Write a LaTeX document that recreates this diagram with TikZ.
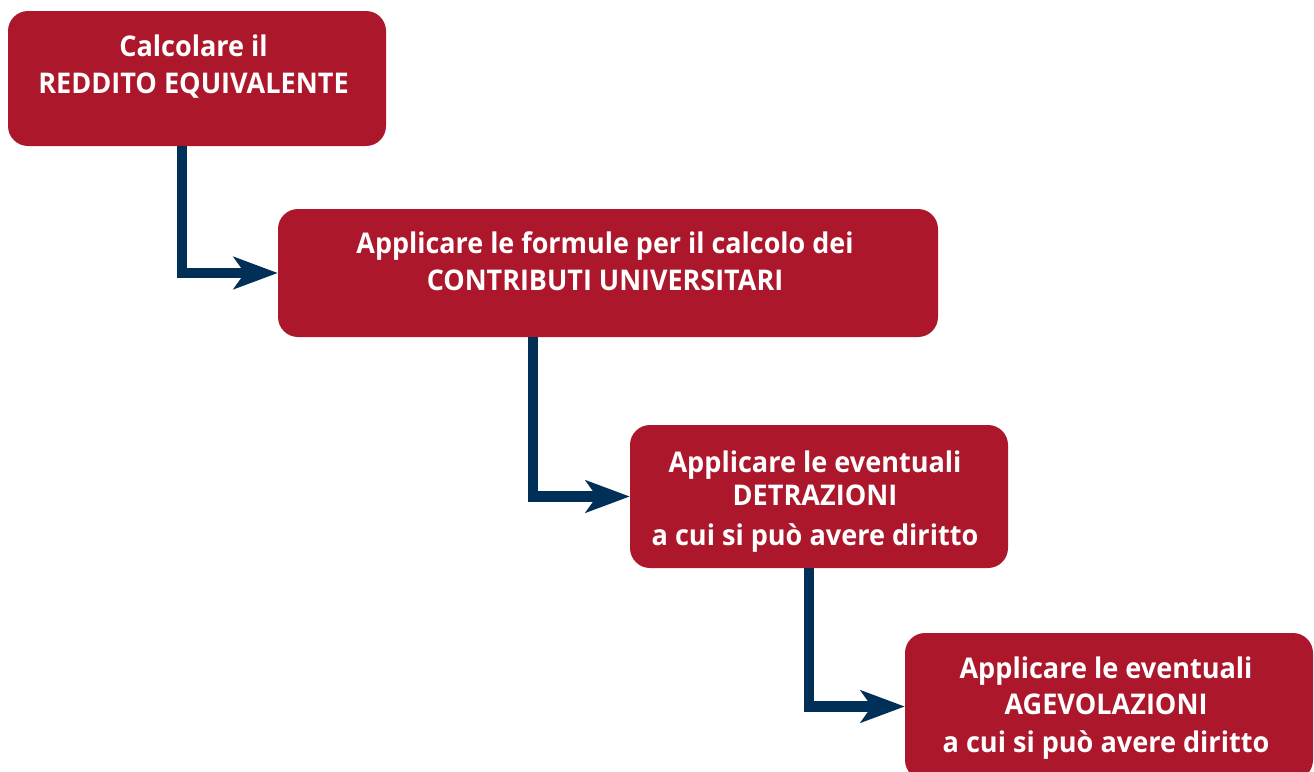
\documentclass[tikz,border=0pt]{standalone}
\usepackage{fontspec}
\setmainfont{Open Sans}[BoldFont={* Bold},FakeStretch=0.95]
\newfontfamily\condfont{Open Sans}[BoldFont={* Bold},FakeStretch=0.945]
\usetikzlibrary{arrows.meta}
\definecolor{boxred}{HTML}{AD172B}
\definecolor{navy}{HTML}{003057}
\tikzset{
  box/.style={rectangle, fill=boxred, draw=none, rounded corners=20pt, inner sep=0pt},
  txt/.style={anchor=base, text=white, inner sep=0pt, font=\fontsize{28.5}{34}\selectfont\bfseries},
  ctxt/.style={anchor=base, text=white, inner sep=0pt, font=\fontsize{28.5}{34}\selectfont\condfont\bfseries},
  conn/.style={draw=navy, line width=10.5pt, -{Stealth[length=44pt, width=32pt, inset=11pt]}}
}
\begin{document}
\begin{tikzpicture}[x=1pt, y=-1pt]
\useasboundingbox (0,0) rectangle (1314,771);
\begin{scope}
\clip (0,0) rectangle (1314,771);
\node[box, minimum width=378pt, minimum height=135pt] (b1) at (197,78.5) {};
\node[box, minimum width=660pt, minimum height=128pt] (b2) at (608,273) {};
\node[box, minimum width=378pt, minimum height=143pt] (b3) at (819,496.5) {};
\node[box, minimum width=408pt, minimum height=147pt] (b4) at (1109,706.5) {};
\end{scope}

\node[txt] (t1a) at (193.5,56) {Calcolare il};
\node[txt] (t1b) at (193.5,93) {REDDITO EQUIVALENTE};

\node[ctxt] (t2a) at (605,253) {Applicare le formule per il calcolo dei};
\node[ctxt] (t2b) at (605,290) {CONTRIBUTI UNIVERSITARI};

\node[txt] (t3a) at (815,472) {Applicare le eventuali};
\node[txt] (t3b) at (815,505) {DETRAZIONI};
\node[txt] (t3c) at (815,545) {a cui si può avere diritto};

\node[txt] (t4a) at (1106,678) {Applicare le eventuali};
\node[txt] (t4b) at (1106,714) {AGEVOLAZIONI};
\node[txt] (t4c) at (1106,752) {a cui si può avere diritto};

\draw[conn] ([xshift=174pt]b1.south west) |- (b2.west);
\draw[conn] ([xshift=255pt]b2.south west) |- (b3.west);
\draw[conn] ([xshift=179pt]b3.south west) |- (b4.west);
\end{tikzpicture}
\end{document}
